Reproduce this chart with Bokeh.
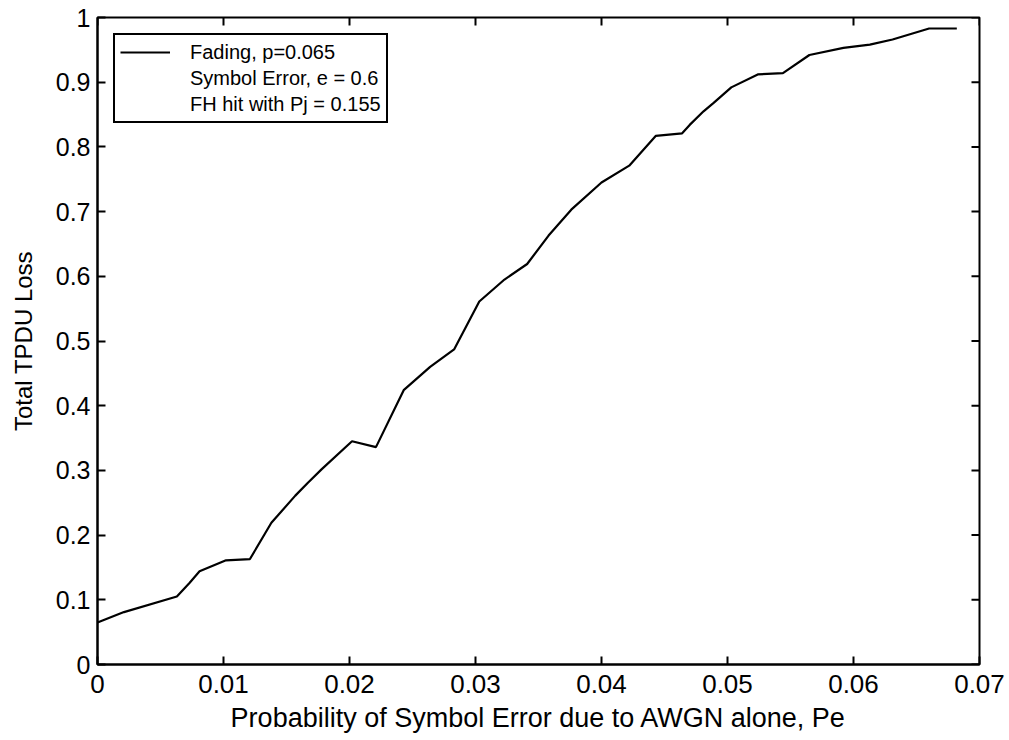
import math

from bokeh.plotting import figure
from bokeh.models import (FixedTicker, CustomJSTickFormatter,
                          Legend, LegendItem, ColumnDataSource)
from bokeh.embed import file_html
from bokeh.resources import INLINE

# Total TPDU loss against AWGN symbol error probability
pe = [0.0, 0.0021, 0.0063, 0.0073, 0.0081, 0.0102, 0.0121, 0.0138, 0.0157,
      0.0167, 0.0178, 0.0202, 0.0221, 0.0243, 0.0264, 0.0283, 0.0303, 0.0323,
      0.0341, 0.0358, 0.0376, 0.0400, 0.0422, 0.0443, 0.0464, 0.0470, 0.0481,
      0.0489, 0.0503, 0.0524, 0.0544, 0.0565, 0.0592, 0.0613, 0.0631, 0.0660,
      0.0682]
loss = [0.065, 0.081, 0.105, 0.126, 0.144, 0.161, 0.163, 0.219, 0.261,
        0.281, 0.302, 0.345, 0.336, 0.424, 0.460, 0.487, 0.561, 0.595,
        0.619, 0.663, 0.703, 0.745, 0.771, 0.817, 0.821, 0.834, 0.855,
        0.868, 0.892, 0.912, 0.914, 0.942, 0.953, 0.958, 0.966, 0.983,
        0.983]

x_ticks = [0.0, 0.01, 0.02, 0.03, 0.04, 0.05, 0.06, 0.07]
y_ticks = [0.0, 0.1, 0.2, 0.3, 0.4, 0.5, 0.6, 0.7, 0.8, 0.9, 1.0]

legend_lines = ["Fading, p=0.065", "Symbol Error, e = 0.6",
                "FH hit with Pj = 0.155"]

FONT = "Liberation Sans"
X_MIN, X_MAX = 0.0, 0.07
Y_MIN, Y_MAX = 0.0, 1.0

p = figure(width=1009, height=740, x_range=(X_MIN, X_MAX),
           y_range=(Y_MIN, Y_MAX),
           output_backend="svg", toolbar_location=None,
           min_border_left=97, min_border_right=30, min_border_top=17,
           min_border_bottom=76, background_fill_color="white",
           border_fill_color="white")
p.grid.visible = False
p.outline_line_color = "black"
p.outline_line_width = 2

fmt_x = CustomJSTickFormatter(code="return String(Math.round(tick*100)/100);")
fmt_y = CustomJSTickFormatter(code="return String(Math.round(tick*10)/10);")


def style_axis(ax, ticks, fmt, tick_size, label_size):
    ax.ticker = FixedTicker(ticks=ticks)
    ax.formatter = fmt
    ax.axis_line_color = "black"
    ax.axis_line_width = 2
    ax.major_tick_line_color = "black"
    ax.major_tick_line_width = 2
    ax.major_tick_in = 8
    ax.major_tick_out = 0
    ax.minor_tick_line_color = None
    ax.major_label_text_font = FONT
    ax.major_label_text_font_size = tick_size
    ax.major_label_text_color = "black"
    ax.axis_label_text_font = FONT
    ax.axis_label_text_font_size = label_size
    ax.axis_label_text_font_style = "normal"
    ax.axis_label_text_color = "black"


style_axis(p.xaxis[0], x_ticks, fmt_x, "26px", "27px")
style_axis(p.yaxis[0], y_ticks, fmt_y, "25px", "24px")
p.xaxis[0].axis_label = "Probability of Symbol Error due to AWGN alone, Pe"
p.yaxis[0].axis_label = "Total TPDU Loss"
p.xaxis[0].major_label_standoff = 10
p.xaxis[0].axis_label_standoff = 7
p.yaxis[0].major_label_standoff = 7
p.yaxis[0].axis_label_standoff = 16

# inward ticks on the top and right edges of the box
p.ray(x=x_ticks, y=[Y_MAX] * len(x_ticks), length=8, length_units="screen",
      angle=-math.pi / 2, line_color="black", line_width=2)
p.ray(x=[X_MAX] * len(y_ticks), y=y_ticks, length=8, length_units="screen",
      angle=math.pi, line_color="black", line_width=2)

src = ColumnDataSource(dict(pe=pe, loss=loss))
main = p.line("pe", "loss", source=src, line_color="black", line_width=2.2)
blank1 = p.line("pe", "loss", source=src, line_alpha=0)
blank2 = p.line("pe", "loss", source=src, line_alpha=0)

legend = Legend(items=[LegendItem(label=legend_lines[0], renderers=[main]),
                       LegendItem(label=legend_lines[1], renderers=[blank1]),
                       LegendItem(label=legend_lines[2], renderers=[blank2])],
                location="top_left")
legend.margin = 16
legend.padding = 5
legend.spacing = 2
legend.label_height = 24
legend.glyph_height = 24
legend.glyph_width = 50
legend.label_standoff = 20
legend.label_text_font = FONT
legend.label_text_font_size = "20px"
legend.label_text_color = "black"
legend.border_line_color = "black"
legend.border_line_alpha = 1
legend.border_line_width = 2
legend.background_fill_color = "white"
legend.background_fill_alpha = 1
p.add_layout(legend, "center")

open("out.html", "w").write(file_html(p, INLINE))
